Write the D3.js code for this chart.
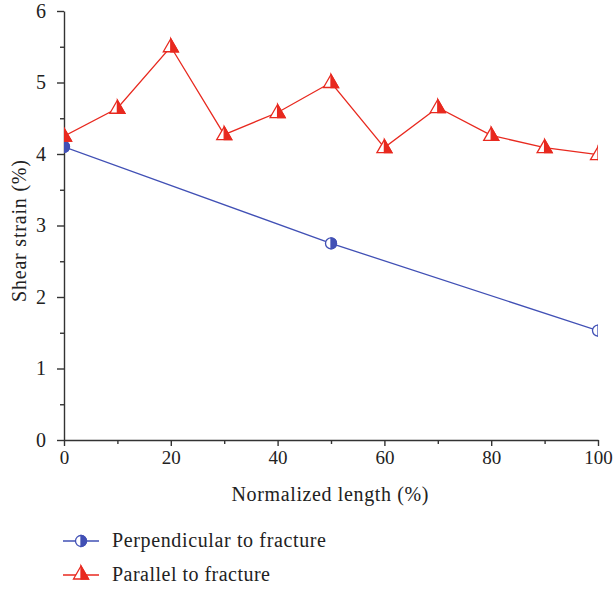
<!DOCTYPE html>
<html lang="en">
<head>
<meta charset="UTF-8">
<script src="https://d3js.org/d3.v7.min.js"></script>
<style>
  body { margin: 0; background: white; }
  svg { display: block; }
  svg text { font-family: "Liberation Serif", "DejaVu Serif", serif; fill: #222; }
</style>
</head>
<body>
<svg width="613" height="590"></svg>
<script>
// data
const parallelX = [0, 10, 20, 30, 40, 50, 60, 70, 80, 90, 100];
const parallelY = [4.25, 4.64, 5.5, 4.27, 4.58, 5.0, 4.09, 4.65, 4.26, 4.09, 3.99];
const perpX = [0, 50, 100];
const perpY = [4.1, 2.75, 1.53];
const xTicks = [0, 20, 40, 60, 80, 100];
const yTicks = [0, 1, 2, 3, 4, 5, 6];

const svg = d3.select("svg");
const plotLeft = 64, plotRight = 598, plotTop = 11, plotBottom = 440;
const x = d3.scaleLinear().domain([0, 100]).range([plotLeft, plotRight]);
const y = d3.scaleLinear().domain([0, 6]).range([plotBottom, plotTop]);
const axisColor = "#333";
const red = "#e8291f", blue = "#4150b5";

// axes
const xAxis = svg.append("g").attr("transform", `translate(0,${plotBottom})`)
  .call(d3.axisBottom(x).tickValues(xTicks).tickFormat(d3.format("d")).tickSize(6).tickSizeOuter(0).tickPadding(5));
svg.append("g").attr("transform", `translate(0,${plotBottom})`)
  .call(d3.axisBottom(x).tickValues(d3.range(10, 100, 20)).tickSize(4).tickFormat(""))
  .select(".domain").remove();
const yAxis = svg.append("g").attr("transform", `translate(${plotLeft},0)`)
  .call(d3.axisLeft(y).tickValues(yTicks).tickFormat(d3.format("d")).tickSize(7).tickSizeOuter(0).tickPadding(11));
svg.append("g").attr("transform", `translate(${plotLeft},0)`)
  .call(d3.axisLeft(y).tickValues(d3.range(0.5, 6, 1)).tickSize(4).tickFormat(""))
  .select(".domain").remove();
svg.selectAll("g").attr("font-family", null);
svg.selectAll(".domain, .tick line").attr("stroke", axisColor).attr("stroke-width", 1.4);
xAxis.selectAll("text").attr("font-size", 19);
yAxis.selectAll("text").attr("font-size", 20);

svg.append("text").attr("x", (plotLeft + plotRight) / 2 - 1).attr("y", 501).attr("text-anchor", "middle")
  .attr("font-size", 20).attr("textLength", 197).attr("lengthAdjust", "spacing").text("Normalized length (%)");
svg.append("text").attr("transform", "translate(26,231) rotate(-90)")
  .attr("text-anchor", "middle").attr("font-size", 20).attr("textLength", 142).attr("lengthAdjust", "spacing")
  .text("Shear strain (%)");

// clip to plot region
svg.append("clipPath").attr("id", "plot").append("rect")
  .attr("x", plotLeft).attr("y", 0).attr("width", plotRight - plotLeft).attr("height", plotBottom);
const plot = svg.append("g").attr("clip-path", "url(#plot)");

const line = d3.line().x(d => x(d[0])).y(d => y(d[1]));
const perp = perpX.map((v, i) => [v, perpY[i]]);
const para = parallelX.map((v, i) => [v, parallelY[i]]);

function circleMarker(g, cx, cy) {
  g.append("circle").attr("cx", cx).attr("cy", cy).attr("r", 5.5)
    .attr("fill", "white").attr("stroke", blue).attr("stroke-width", 1.3);
  g.append("path").attr("d", `M${cx},${cy - 5.5} A5.5,5.5 0 0 1 ${cx},${cy + 5.5} Z`)
    .attr("fill", blue).attr("stroke", blue).attr("stroke-width", 1.3);
}
function triMarker(g, cx, cy) {
  g.append("path").attr("d", `M${cx},${cy - 8} L${cx + 7.5},${cy + 5} L${cx - 7.5},${cy + 5} Z`)
    .attr("fill", "white").attr("stroke", red).attr("stroke-width", 1.3);
  g.append("path").attr("d", `M${cx},${cy - 8} L${cx + 7.5},${cy + 5} L${cx},${cy + 5} Z`)
    .attr("fill", red).attr("stroke", red).attr("stroke-width", 1.3);
}

plot.append("path").datum(perp).attr("d", line).attr("fill", "none").attr("stroke", blue).attr("stroke-width", 1.3);
plot.append("path").datum(para).attr("d", line).attr("fill", "none").attr("stroke", red).attr("stroke-width", 1.3);
perp.forEach(d => circleMarker(plot, x(d[0]), y(d[1])));
para.forEach(d => triMarker(plot, x(d[0]), y(d[1])));

// legend
const legend = [
  { label: "Perpendicular to fracture", color: blue, marker: circleMarker, yy: 541, w: 214 },
  { label: "Parallel to fracture", color: red, marker: triMarker, yy: 575, w: 158 }
];
legend.forEach(l => {
  svg.append("line").attr("x1", 63).attr("x2", 99).attr("y1", l.yy).attr("y2", l.yy)
    .attr("stroke", l.color).attr("stroke-width", 1.3);
  l.marker(svg, 81, l.marker === triMarker ? l.yy - 1 : l.yy);
  svg.append("text").attr("x", 112).attr("y", l.yy + 6).attr("font-size", 20)
    .attr("textLength", l.w).attr("lengthAdjust", "spacing").text(l.label);
});
</script>
</body>
</html>
